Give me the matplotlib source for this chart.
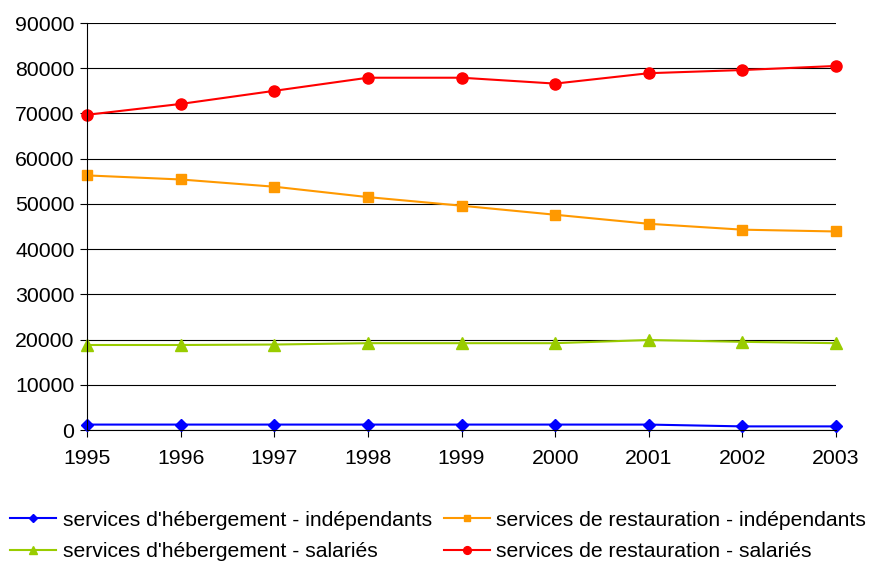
import numpy as np
import matplotlib
matplotlib.use("Agg")
import matplotlib.pyplot as plt

plt.rcParams['font.family'] = ['Liberation Sans', 'DejaVu Sans']

years = [1995, 1996, 1997, 1998, 1999, 2000, 2001, 2002, 2003]
heberg_indep = [1200, 1200, 1200, 1200, 1200, 1200, 1200, 800, 800]
heberg_sal = [18800, 18800, 18900, 19200, 19200, 19200, 19900, 19500, 19200]
resto_indep = [56300, 55400, 53800, 51500, 49600, 47600, 45600, 44300, 43900]
resto_sal = [69700, 72100, 75000, 77900, 77900, 76600, 78900, 79600, 80500]

labels = ["services d'hébergement - indépendants",
          "services d'hébergement - salariés",
          "services de restauration - indépendants",
          "services de restauration - salariés"]

fig = plt.figure(figsize=(8.69, 5.61), dpi=100)
ax = fig.add_axes([0.1001, 0.2335, 0.862, 0.7255])

ax.plot(years, heberg_indep, color='#0000FF', marker='D', ms=6, lw=1.5, label=labels[0])
ax.plot(years, heberg_sal, color='#99CC00', marker='^', ms=8, lw=1.5, label=labels[1])
ax.plot(years, resto_indep, color='#FF9900', marker='s', ms=7, lw=1.5, label=labels[2])
ax.plot(years, resto_sal, color='#FF0000', marker='o', ms=8, lw=1.5, label=labels[3])

ax.set_xlim(1995, 2003)
ax.set_ylim(0, 90000)
ax.set_yticks(np.arange(0, 90001, 10000))
ax.set_xticks(years)
ax.yaxis.grid(True, color='black', lw=0.8)
ax.set_axisbelow(True)
for s in ('top', 'right'):
    ax.spines[s].set_visible(False)
ax.tick_params(axis='both', labelsize=15.3, color='black', length=5)
ax.tick_params(axis='x', pad=9)
ax.tick_params(axis='y', pad=4)
for ln in ax.lines:
    ln.set_clip_on(False)

fig.legend(loc='upper left', bbox_to_anchor=(0.0115, 0.09), ncol=2, frameon=False,
           fontsize=15.2, handlelength=2.2, columnspacing=0.55, handletextpad=0.3,
           labelspacing=0.6, borderaxespad=0, borderpad=0, markerscale=0.7)

fig.savefig('out.png', dpi=100)
